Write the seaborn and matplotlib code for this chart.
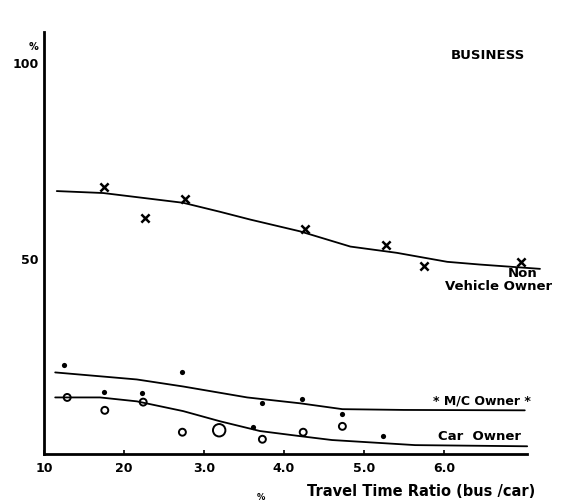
import pandas as pd
import numpy as np
import matplotlib
matplotlib.use("Agg")
import matplotlib.pyplot as plt
import seaborn as sns

# observed points, travel time ratio (bus/car) vs % using bus
nvo_x = [1.75, 2.26, 2.76, 4.26, 5.28, 5.75, 6.96]
nvo_y = [68.4, 60.5, 65.3, 57.7, 53.6, 48.2, 49.2]

mc_x = [1.25, 1.75, 2.23, 2.73, 3.61, 3.73, 4.23, 4.73, 5.24]
mc_y = [22.7, 15.8, 15.6, 20.9, 6.9, 13.0, 14.0, 10.2, 4.6]

car_x = [1.29, 1.76, 2.24, 2.73, 3.19, 3.73, 4.24, 4.73]
car_y = [14.5, 11.2, 13.3, 5.6, 6.1, 3.8, 5.6, 7.1]
car_size = [30, 30, 30, 30, 80, 30, 30, 30]

# fitted curves
nvo_cx = [1.16, 1.74, 2.74, 3.2, 3.58, 4.2, 4.83, 5.41, 6.04, 6.45, 7.2]
nvo_cy = [67.3, 66.8, 64.3, 62.0, 60.0, 57.0, 53.1, 51.5, 49.2, 48.5, 47.4]

mc_cx = [1.14, 2.16, 2.74, 3.54, 4.2, 4.73, 5.5, 7.01]
mc_cy = [20.9, 19.1, 17.3, 14.5, 13.0, 11.5, 11.3, 11.2]

car_cx = [1.14, 1.7, 2.16, 2.74, 3.2, 3.7, 4.2, 4.6, 5.64, 7.04]
car_cy = [14.5, 14.5, 13.5, 11.0, 8.4, 5.9, 4.6, 3.6, 2.3, 2.0]

xticks = [1, 2, 3, 4, 5, 6]
xtick_labels = ["10", "20", "3.0", "4.0", "5.0", "6.0"]
yticks = [50, 100]

sns.set_style("ticks")
plt.rcParams["font.family"] = ["DejaVu Sans"]
plt.rcParams["text.color"] = "black"
plt.rcParams["xtick.color"] = "black"
plt.rcParams["ytick.color"] = "black"
plt.rcParams["axes.edgecolor"] = "black"
plt.rcParams["axes.labelcolor"] = "black"

fig = plt.figure(figsize=(5.64, 5.04), dpi=100)
ax = fig.add_axes([0.078, 0.099, 0.8865, 0.8375])

for cx, cy in [(nvo_cx, nvo_cy), (mc_cx, mc_cy), (car_cx, car_cy)]:
    sns.lineplot(x=cx, y=cy, ax=ax, color="black", linewidth=1.3, sort=False)

sns.scatterplot(x=nvo_x, y=nvo_y, ax=ax, marker="x", color="black", s=35, linewidth=1.8)
sns.scatterplot(x=mc_x, y=mc_y, ax=ax, marker="o", color="black", s=14, linewidth=0)
sns.scatterplot(x=car_x, y=car_y, ax=ax, marker="o", size=car_size, sizes=(25, 80),
                facecolor="white", edgecolor="black", linewidth=1.4, legend=False)

ax.set_xlim(1.0, 7.25)
ax.set_ylim(0, 108)
ax.spines["bottom"].set_bounds(1.0, 7.04)
ax.spines["top"].set_visible(False)
ax.spines["right"].set_visible(False)
ax.spines["left"].set_linewidth(2)
ax.spines["bottom"].set_linewidth(2)

ax.set_xticks(xticks)
ax.set_xticklabels(xtick_labels, fontsize=9, fontweight="bold")
ax.set_yticks(yticks)
ax.set_yticklabels([str(v) for v in yticks], fontsize=9, fontweight="bold")
ax.tick_params(axis="x", direction="in", length=3, width=1.2, pad=6)
ax.tick_params(axis="y", direction="in", length=0, pad=4)
ax.set_xlabel("Travel Time Ratio (bus /car)", fontsize=10.5, fontweight="bold")
ax.xaxis.set_label_coords(0.755, -0.07)
ax.set_ylabel("")

fig.text(0.05, 0.9, "%", fontsize=7, fontweight="bold")
fig.text(0.455, 0.008, "%", fontsize=6, fontweight="bold")

ax.text(6.55, 101, "BUSINESS", fontsize=9.5, fontweight="bold", ha="center")
ax.text(6.98, 44.6, "Non", fontsize=9.5, fontweight="bold", ha="center", va="bottom")
ax.text(6.68, 41.3, "Vehicle Owner", fontsize=9.5, fontweight="bold", ha="center", va="bottom")
ax.text(6.47, 11.8, "* M/C Owner *", fontsize=9, fontweight="bold", ha="center", va="bottom")
ax.text(6.44, 2.9, "Car  Owner", fontsize=9.5, fontweight="bold", ha="center", va="bottom")

fig.savefig("out.png", dpi=100)
